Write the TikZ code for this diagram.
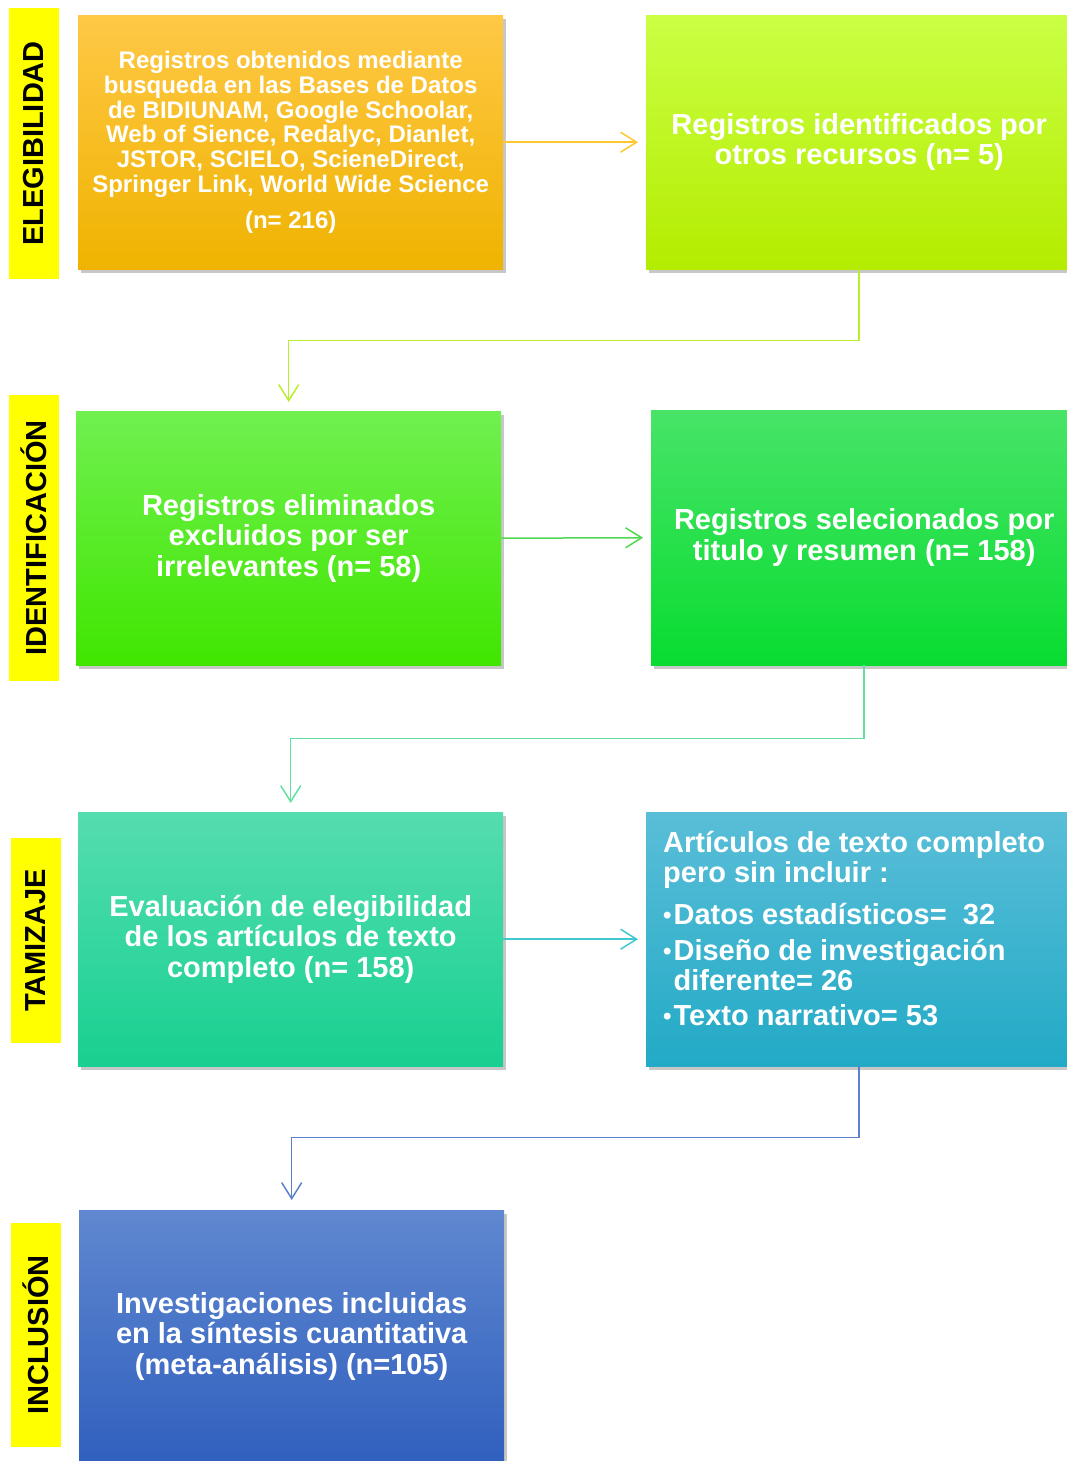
\documentclass[tikz,border=0pt]{standalone}
\usepackage{fontspec}
\setmainfont{Liberation Sans}
\usetikzlibrary{arrows.meta,shadows,positioning}
\definecolor{lab}{HTML}{FFFF00}
\definecolor{aOne}{HTML}{FFC830}
\definecolor{cOne}{HTML}{B8EE30}
\definecolor{aTwo}{HTML}{50D850}
\definecolor{cTwo}{HTML}{60E0A0}
\definecolor{aThree}{HTML}{40C8D0}
\definecolor{cThree}{HTML}{5A80CC}
\definecolor{bOneT}{HTML}{FFC846}\definecolor{bOneB}{HTML}{EFB300}
\definecolor{bTwoT}{HTML}{CAFF44}\definecolor{bTwoB}{HTML}{B4EC00}
\definecolor{bThreeT}{HTML}{70F050}\definecolor{bThreeB}{HTML}{40E600}
\definecolor{bFourT}{HTML}{48E468}\definecolor{bFourB}{HTML}{08DC30}
\definecolor{bFiveT}{HTML}{55DDB0}\definecolor{bFiveB}{HTML}{18D090}
\definecolor{bSixT}{HTML}{5ABED8}\definecolor{bSixB}{HTML}{22AAC6}
\definecolor{bSevenT}{HTML}{6088D0}\definecolor{bSevenB}{HTML}{3060BE}
\newcommand{\smallbul}{{\fontsize{24}{24}\selectfont\raisebox{1pt}{•}}\hspace{2pt}}
\tikzset{
  box/.style={anchor=north west, minimum width=426pt, minimum height=254pt,
    inner sep=0pt, text=white, align=center, font=\bfseries\fontsize{29}{30.5}\selectfont,
    drop shadow={shadow xshift=3pt, shadow yshift=-4pt, opacity=0.22, fill=black}},
  phase/.style={fill=lab, rotate=90, inner sep=0pt, minimum height=50pt,
    font=\bfseries\fontsize{29}{30}\selectfont, text=black},
  link/.style={line width=1.5pt, -{Straight Barb[length=16pt,width=20pt,line width=1.5pt]}},
}
\begin{document}
\begin{tikzpicture}[x=1pt,y=-1pt]
\useasboundingbox (0,0) rectangle (1067,1461);
% phase labels
\node[phase, minimum width=271pt] (p1) at (33.5,143.5) {ELEGIBILIDAD};
\node[phase, minimum width=286pt] (p2) at (34,538) {IDENTIFICACIÓN};
\node[phase, minimum width=205pt] (p3) at (36,940.5) {TAMIZAJE};
\node[phase, minimum width=224pt] (p4) at (36,1335) {INCLUSIÓN};
% boxes
\node[box, minimum width=425pt, top color=bOneT, bottom color=bOneB,
  font=\bfseries\fontsize{24}{24.8}\selectfont] (b1) at (78,15)
  {Registros obtenidos mediante\\busqueda en las Bases de Datos\\de BIDIUNAM, Google Schoolar,\\Web of Sience, Redalyc, Dianlet,\\JSTOR, SCIELO, ScieneDirect,\\Springer Link, World Wide Science\\[11pt](n= 216)};
\node[box, top color=bTwoT, bottom color=bTwoB] (b2) at (646,15)
  {Registros identificados por\\otros recursos (n= 5)};
\node[box, minimum width=425pt, top color=bThreeT, bottom color=bThreeB] (b3) at (76,411)
  {Registros eliminados\\excluidos por ser\\irrelevantes (n= 58)};
\node[box, minimum height=255pt, top color=bFourT, bottom color=bFourB] (b4) at (651,410)
  {Registros selecionados por\\titulo y resumen (n= 158)};
\node[box, minimum width=425pt, top color=bFiveT, bottom color=bFiveB] (b5) at (78,812)
  {Evaluación de elegibilidad\\de los artículos de texto\\completo (n= 158)};
\node[box, top color=bSixT, bottom color=bSixB] (b6) at (646,812) {};
\node[anchor=north west, inner sep=0pt, text=white, align=left,
  font=\bfseries\fontsize{29}{30}\selectfont] (t6) at (663,831)
  {Artículos de texto completo\\pero sin incluir :\\[12pt]%
   \smallbul Datos estadísticos=~~32\\[6.5pt]%
   \smallbul Diseño de investigación\\\phantom{\smallbul}diferente= 26\\[5pt]%
   \smallbul Texto narrativo= 53};
\node[box, minimum width=425pt, minimum height=252pt, top color=bSevenT, bottom color=bSevenB] (b7) at (79,1210)
  {Investigaciones incluidas\\en la síntesis cuantitativa\\(meta-análisis) (n=105)};
% connectors
\draw[link, aOne, shorten >=8pt] (b1.east) -- (b2.west);
\draw[link, cOne, shorten >=9pt] (b2.south) -- ++(0,71) -| (b3.north);
\draw[link, aTwo, shorten >=8pt] (b3.east) -- (b4.west);
\draw[link, cTwo, shorten >=9pt] (b4.south) -- ++(0,73) -| (b5.north);
\draw[link, aThree, shorten >=8pt] (b5.east) -- (b6.west);
\draw[link, cThree, shorten >=10pt] (b6.south) -- ++(0,71) -| (b7.north);
\end{tikzpicture}
\end{document}
